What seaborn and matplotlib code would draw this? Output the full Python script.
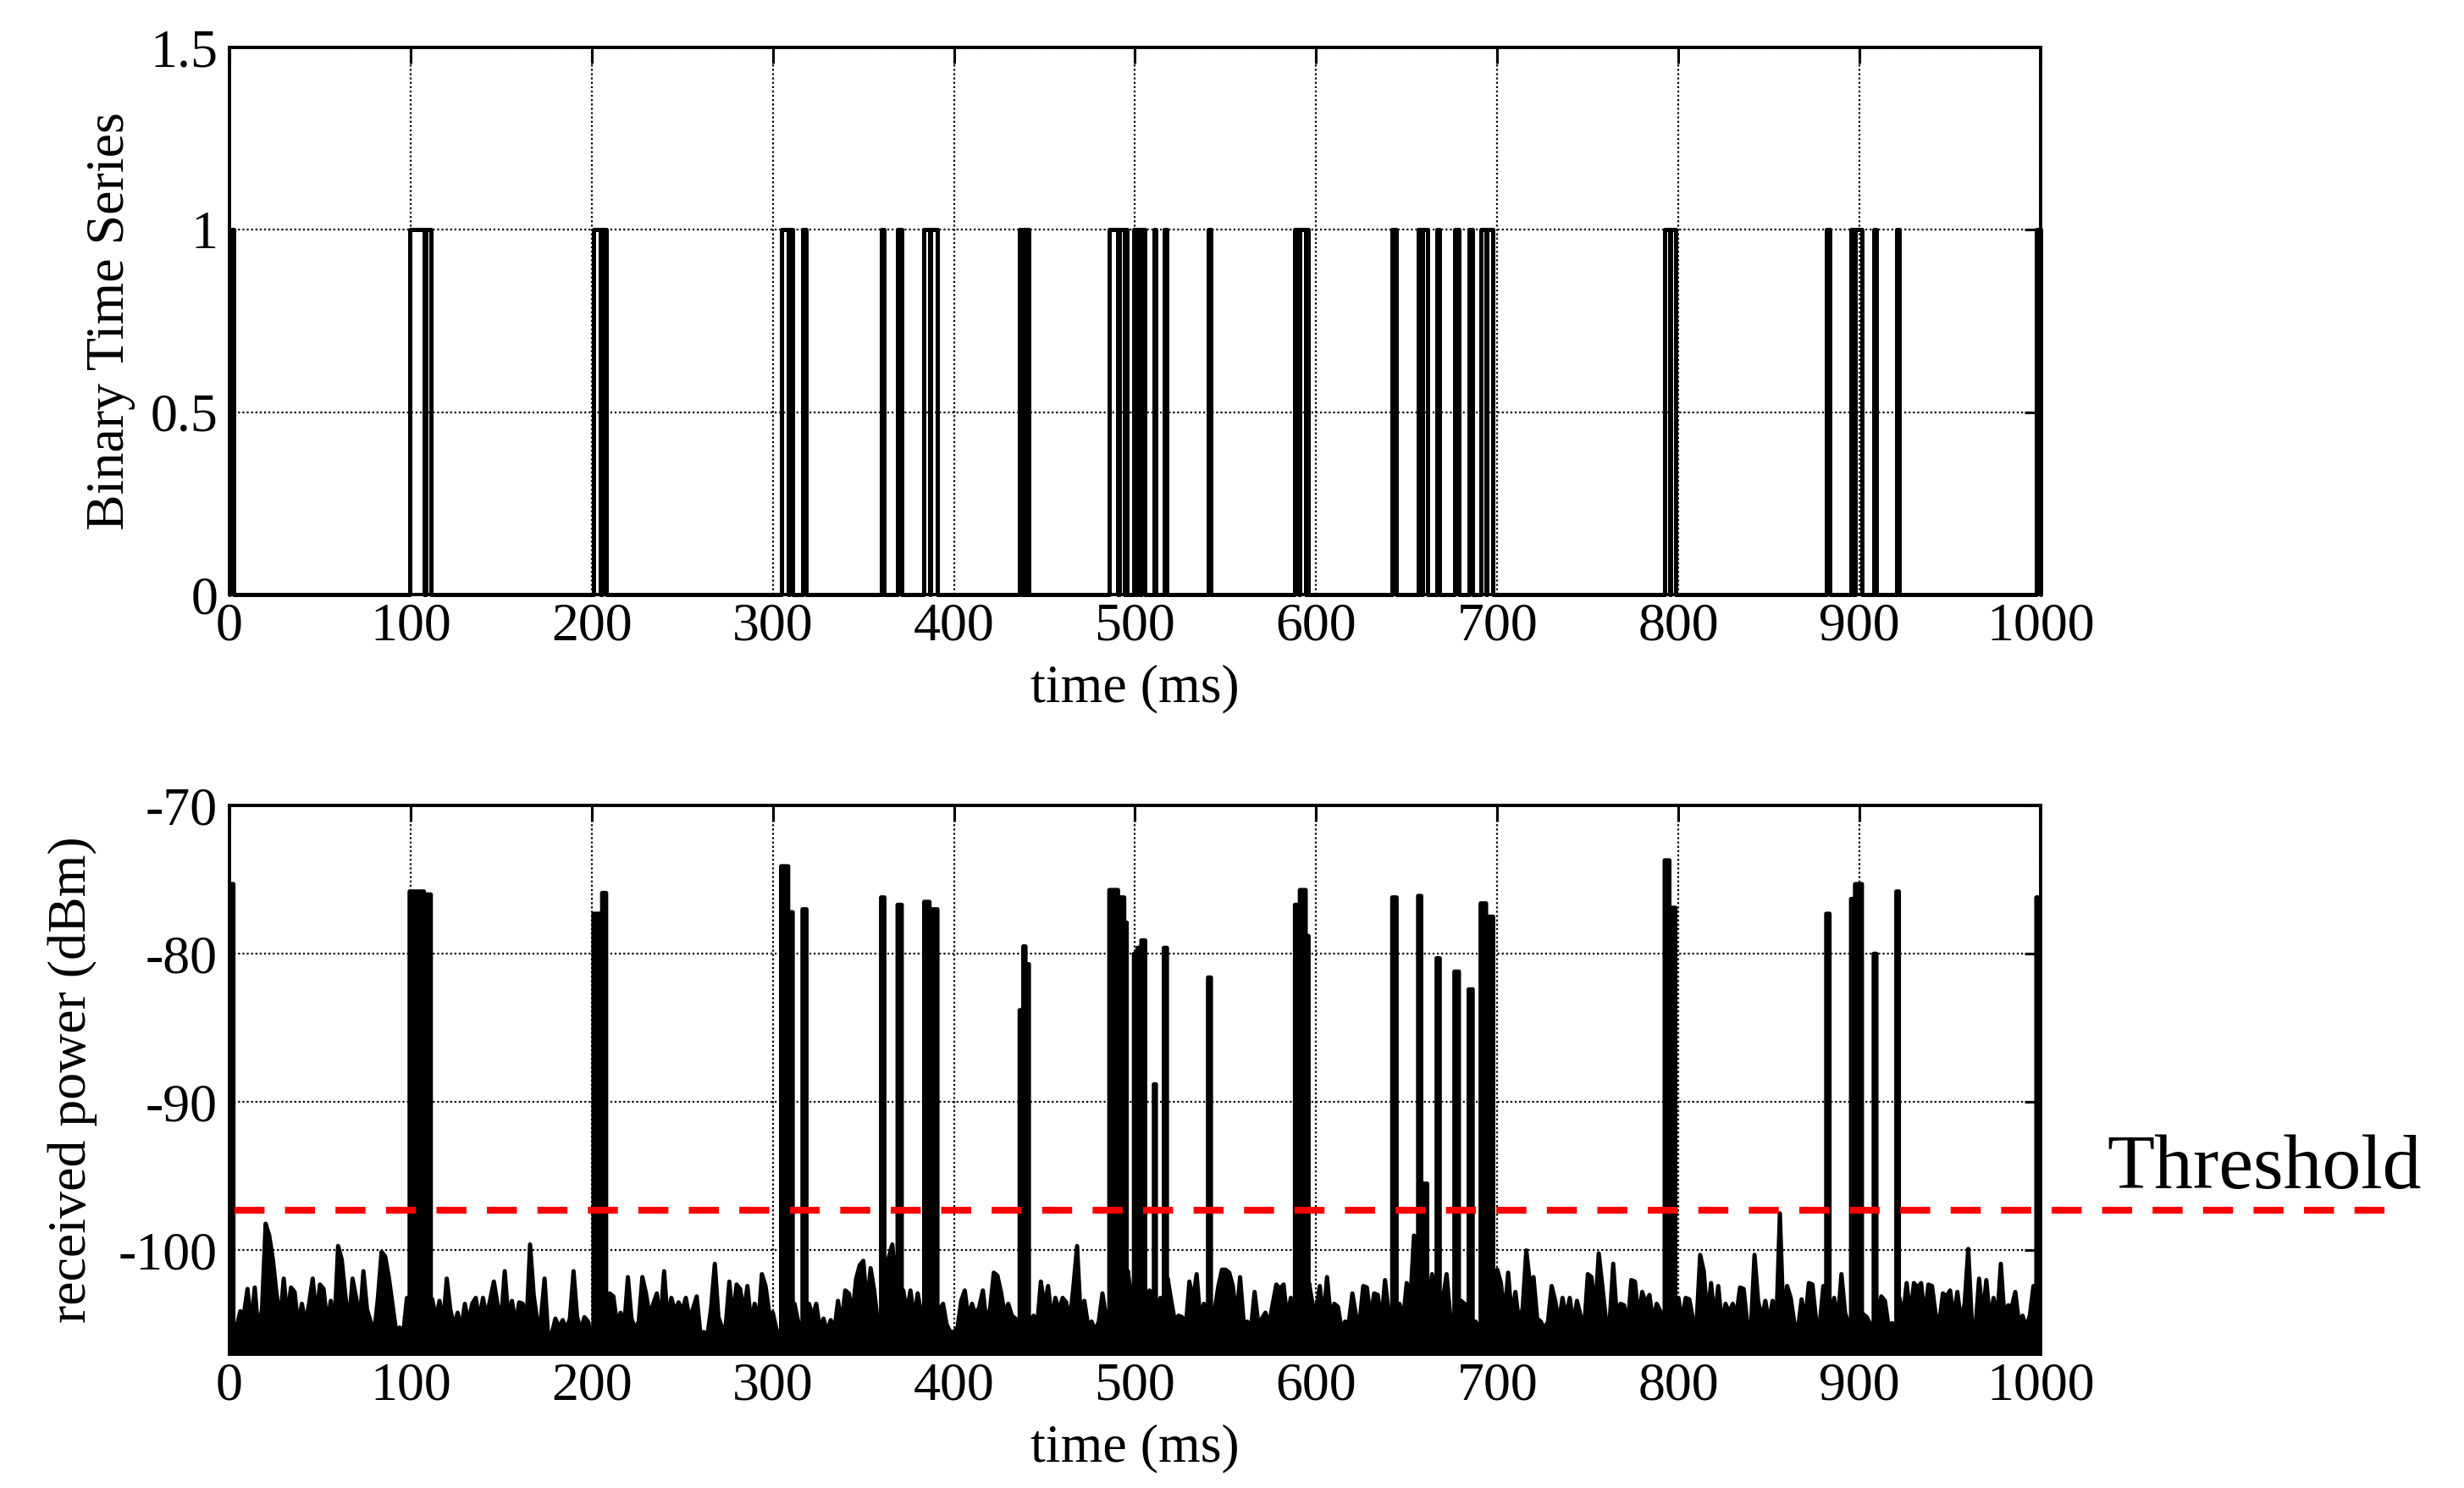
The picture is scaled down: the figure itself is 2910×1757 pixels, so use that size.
import numpy as np
import matplotlib
matplotlib.use('Agg')
import matplotlib.pyplot as plt
import seaborn as sns

# on-intervals of the binary series (ms) and the received-power peak of each burst
on_start = [0.0, 99.5, 108.3, 201.0, 205.8, 304.6, 309.2, 316.4, 359.8, 368.9, 383.6, 387.3,
            436.3, 438.3, 440.2, 485.8, 491.4, 494.6, 499.4, 501.3, 503.5, 510.4, 515.9, 540.3,
            588.3, 591.0, 594.8, 642.0, 656.3, 658.7, 666.5, 676.3, 684.2, 690.8, 694.4,
            792.4, 795.6, 881.6, 895.3, 897.5, 907.8, 920.3, 997.6]
on_end = [2.2, 107.4, 111.2, 205.0, 208.0, 308.5, 311.0, 318.6, 361.6, 371.2, 386.5, 390.9,
          437.6, 439.5, 441.4, 490.6, 494.0, 495.4, 500.6, 502.8, 505.6, 511.5, 517.6, 541.9,
          590.4, 594.2, 595.8, 644.4, 658.0, 661.3, 668.2, 678.8, 686.4, 693.8, 697.7,
          795.0, 798.3, 883.4, 896.8, 901.3, 909.3, 921.7, 1000.0]
peak_dbm = [-75.3, -75.8, -76.0, -77.3, -75.9, -74.1, -77.2, -77.0, -76.2, -76.7, -76.5, -77.0,
            -83.8, -79.5, -80.7, -75.7, -76.2, -77.9, -80.0, -79.6, -79.1, -88.8, -79.6, -81.6,
            -76.7, -75.7, -78.8, -76.2, -76.1, -95.5, -80.3, -81.2, -82.4, -76.6, -77.5,
            -73.7, -76.9, -77.3, -76.3, -75.3, -80.0, -75.8, -76.2]

# noise floor read every 2 ms (0 .. 1000 ms)
noise_db = [
    -106, -106, -105.2, -104.1, -104.3, -102.6, -105.0, -102.5, -105.5, -104.0, -98.2, -99.0, -100.6,
    -102.9, -104.8, -101.9, -104.6, -102.5, -102.8, -105.1, -103.6, -104.9, -103.6, -101.9, -104.5,
    -102.3, -102.6, -104.9, -103.4, -105.2, -99.7, -100.6, -103.0, -105.0, -101.9, -103.2, -104.8, -101.4,
    -104.0, -104.8, -105.5, -103.2, -100.1, -100.4, -101.8, -103.6, -105.4, -105.2, -105.6, -103.2,
    -106, -106, -106, -106, -106, -106, -103.3, -104.6, -103.4, -105.0, -101.9, -104.0, -105.1,
    -104.2, -105.3, -103.6, -104.9, -103.6, -103.2, -104.7, -103.2, -104.5, -103.3, -102.1, -103.6,
    -104.8, -101.4, -104.6, -103.4, -105.0, -103.5, -103.6, -105.2, -99.6, -103.0, -104.8, -104.6, -101.9,
    -105.8, -105.6, -104.6, -105.2, -104.7, -105.3, -104.6, -101.4, -104.5, -105.4, -104.5, -104.8,
    -105.8, -106, -106, -106, -106, -102.9, -103.1, -105.0, -104.2, -105.1, -101.8, -104.6, -105.3,
    -104.8, -101.8, -102.9, -104.4, -103.6, -102.9, -104.9, -101.4, -104.8, -103.2, -104.1, -103.5,
    -104.1, -103.2, -104.6, -103.9, -103.1, -105.6, -105.5, -105.7, -103.8, -100.9, -104.5, -105.2, -105.1,
    -102.1, -104.7, -102.3, -102.6, -104.2, -102.4, -104.9, -103.6, -105.0, -101.6, -102.4, -104.2,
    -104.2, -105.3, -106, -106, -106, -106, -103.6, -104.8, -106, -106, -103.6, -104.5, -103.6,
    -105.3, -104.6, -105.5, -104.7, -105.4, -103.4, -105.0, -102.7, -102.9, -104.3, -101.9, -101.0,
    -100.7, -103.8, -101.2, -102.7, -104.9, -106, -104.0, -100.5, -99.6, -102.5, -106, -102.7, -104.2,
    -102.7, -104.6, -102.9, -104.3, -106, -106, -106, -106, -104.0, -103.6, -105.0, -105.5,
    -105.5, -105.2, -103.4, -102.7, -104.6, -103.6, -104.4, -103.8, -102.7, -104.9, -103.9, -101.5, -101.7,
    -102.8, -104.3, -103.6, -104.4, -104.6, -106, -106, -106, -104.9, -104.4, -105.0, -102.1,
    -103.8, -102.4, -104.7, -103.2, -104.1, -103.2, -103.5, -104.8, -102.4, -99.7, -104.5, -103.4, -105.0,
    -104.8, -105.4, -104.8, -102.9, -104.5, -106, -106, -106, -106, -106, -101.4, -103.2,
    -106, -106, -106, -104.2, -102.7, -104.6, -105.0, -103.2, -106, -101.9, -103.4, -104.8, -104.4,
    -104.5, -105.2, -102.1, -103.4, -101.6, -104.7, -103.6, -106, -105.1, -104.0, -102.4, -101.3,
    -101.3, -101.5, -102.4, -104.6, -101.8, -104.9, -104.8, -105.3, -102.8, -104.9, -104.6, -104.2, -105.0,
    -103.6, -102.3, -102.6, -102.3, -104.6, -103.2, -104.5, -106, -106, -106, -102.2, -103.6,
    -104.0, -102.4, -104.7, -101.8, -104.5, -103.6, -103.8, -105.3, -104.8, -104.9, -102.9, -104.4, -104.8,
    -102.4, -102.5, -104.6, -102.9, -103.0, -104.9, -102.0, -104.2, -106, -106, -103.6, -104.7,
    -102.2, -103.4, -99.0, -104.0, -106, -106, -104.1, -101.6, -104.6, -106, -103.3, -101.6, -104.4,
    -104.9, -106, -103.4, -103.6, -105.0, -106, -104.8, -105.2, -106, -106, -106, -103.8,
    -101.3, -102.2, -104.5, -101.5, -104.6, -102.8, -104.9, -103.9, -100.0, -102.2, -101.8, -104.6, -104.8,
    -105.3, -104.8, -102.4, -103.4, -104.9, -103.2, -104.5, -103.2, -105.0, -103.4, -104.4, -105.2,
    -101.6, -101.8, -104.2, -100.2, -102.4, -104.7, -104.9, -100.9, -104.5, -103.6, -103.7, -105.1, -102.0,
    -102.1, -104.6, -102.8, -103.6, -103.0, -104.8, -103.6, -104.1, -106, -106, -106, -106,
    -103.2, -104.8, -103.2, -103.3, -104.6, -105.0, -100.3, -101.4, -104.6, -102.2, -104.7, -102.4, -105.0,
    -103.6, -104.2, -103.6, -104.4, -102.5, -102.6, -104.9, -105.3, -100.3, -103.4, -104.6, -103.4,
    -104.9, -103.4, -105.2, -97.5, -104.8, -102.4, -103.2, -104.9, -105.3, -103.3, -104.8, -102.2, -102.3,
    -104.7, -105.0, -102.4, -106, -104.6, -103.2, -104.8, -101.6, -104.2, -105.0, -106, -106,
    -106, -104.3, -104.5, -105.0, -106, -104.7, -103.1, -103.4, -105.1, -104.9, -106, -103.2, -104.5,
    -102.2, -104.4, -102.2, -102.5, -102.2, -104.6, -102.3, -102.4, -104.3, -104.9, -102.9, -103.1,
    -102.7, -104.6, -102.8, -104.8, -103.6, -99.9, -104.9, -105.2, -101.9, -104.5, -102.0, -104.8, -103.2,
    -104.7, -100.9, -104.6, -103.7, -103.8, -102.8, -104.9, -104.4, -105.2, -104.4, -102.4, -106,
    -106,
]
noise_t = np.arange(0, 1001, 2)

threshold_dbm = -97.3
pulse_floor_dbm = -106.5
x_ticks = [0, 100, 200, 300, 400, 500, 600, 700, 800, 900, 1000]
top_yticks = [0, 0.5, 1, 1.5]
top_ytick_labels = ['0', '0.5', '1', '1.5']
bottom_yticks = [-100, -90, -80, -70]

# binary series as a step trace
t_bin, v_bin = [0.0], [0]
for a, b in zip(on_start, on_end):
    t_bin += [a, a, b, b]
    v_bin += [0, 1, 1, 0]

# received power: noise floor with the bursts laid over it
inside = np.zeros(len(noise_t), dtype=bool)
for a, b in zip(on_start, on_end):
    inside |= (noise_t >= a) & (noise_t <= b)
pts = [(t, 0, v) for t, v, m in zip(noise_t, noise_db, inside) if not m]
for a, b, p in zip(on_start, on_end, peak_dbm):
    pts += [(a, 0, pulse_floor_dbm), (a, 1, p), (b, 2, p), (b, 3, pulse_floor_dbm)]
pts.sort(key=lambda r: (r[0], r[1]))
t_pow = np.array([r[0] for r in pts], dtype=float)
v_pow = np.array([r[2] for r in pts], dtype=float)

sns.set_theme(style='white')
plt.rcParams['font.family'] = ['Liberation Serif', 'DejaVu Serif']
plt.rcParams['axes.unicode_minus'] = False

fig = plt.figure(figsize=(29.1, 17.57), dpi=100)
ax1 = fig.add_axes([0.0931, 0.6004, 0.7351, 0.3677])
ax2 = fig.add_axes([0.0931, 0.0899, 0.7351, 0.3688])

FS = 46
LW = 3.6


def style_axes(ax):
    ax.set_xlim(0, 1000)
    ax.set_xticks(x_ticks)
    ax.set_xticklabels([str(x) for x in x_ticks])
    ax.grid(True, color='black', linestyle=(0, (1, 1.3)), linewidth=1.6)
    ax.tick_params(direction='in', length=14, width=2.2, top=True, right=True,
                   labelsize=FS, colors='black')
    ax.tick_params(axis='y', pad=10)
    ax.tick_params(axis='x', pad=7)
    for s in ax.spines.values():
        s.set_visible(True)
        s.set_linewidth(2.8)
        s.set_color('black')
    ax.set_xlabel('time (ms)', fontsize=FS, color='black')
    ax.xaxis.set_label_coords(0.5, -0.127)


sns.lineplot(x=t_bin, y=v_bin, ax=ax1, estimator=None, sort=False,
             color='black', linewidth=LW)
ax1.lines[0].set_clip_on(False)
ax1.set_ylim(0, 1.5)
ax1.set_yticks(top_yticks)
ax1.set_yticklabels(top_ytick_labels)
style_axes(ax1)
ax1.set_ylabel('Binary Time Series', fontsize=FS, color='black')
ax1.yaxis.set_label_coords(-0.052, 0.5)

ax2.fill_between(t_pow, -107, v_pow, color='black', linewidth=0)
sns.lineplot(x=t_pow, y=v_pow, ax=ax2, estimator=None, sort=False,
             color='black', linewidth=LW)
ax2.set_ylim(-107, -70)
ax2.set_yticks(bottom_yticks)
style_axes(ax2)
ax2.set_ylabel('received power (dBm)', fontsize=FS, color='black')
ax2.yaxis.set_label_coords(-0.073, 0.5)

ax2.axhline(threshold_dbm, xmin=0.003, xmax=1.1936, color='red', linewidth=5.8,
            linestyle=(0, (4.4, 3.0)), clip_on=False, zorder=5)
ax2.text(1.0365, -95.8, 'Threshold', transform=ax2.get_yaxis_transform(),
         fontsize=66, ha='left', va='baseline', color='black')

fig.savefig('out.png', dpi=100, facecolor='white')
